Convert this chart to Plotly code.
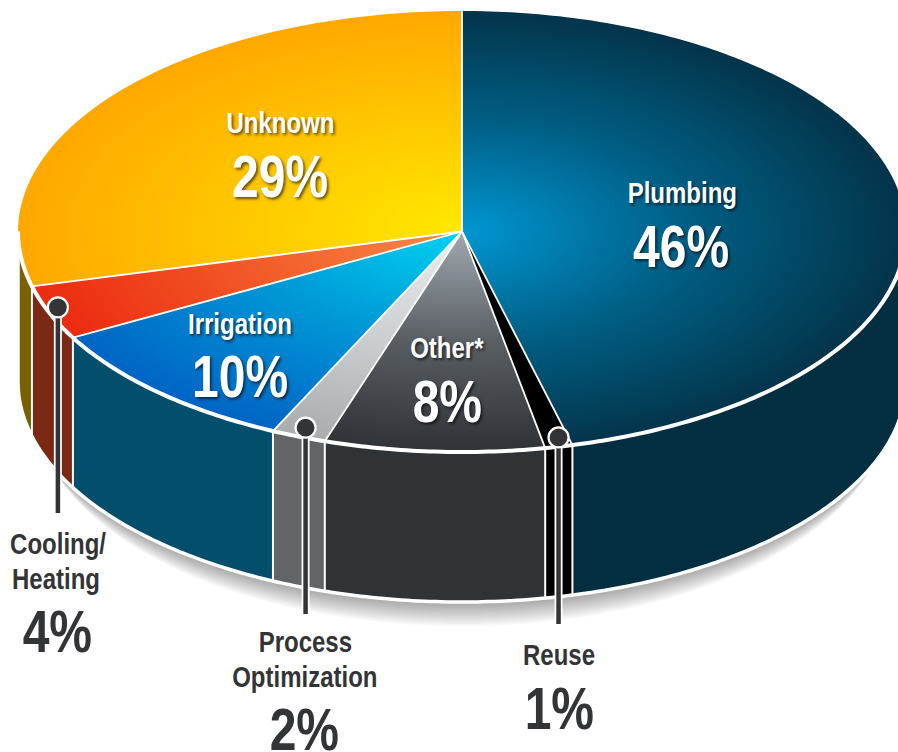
import numpy as np
import plotly.graph_objects as go

# Share of each use, clockwise from twelve o'clock
categories = ["Plumbing", "Reuse", "Other*", "Process Optimization", "Irrigation", "Cooling/Heating", "Unknown"]
shares = [46, 1, 8, 2, 10, 4, 29]

# Radial colour stops for the top faces (centre, middle, rim) and flat side-wall colours
top_colors = [
    ["#0096D2", "#005F85", "#03344A"],
    ["#000000", "#000000", "#000000"],
    ["#A0A9AF", "#5A5F64", "#2F3236"],
    ["#ECEEEF", "#CDD0D2", "#A8ACAF"],
    ["#00D2F0", "#0096D6", "#0064C4"],
    ["#F88A48", "#F25A28", "#EC2A10"],
    ["#FFE800", "#FFC800", "#FFA800"],
]
wall_colors = ["#012F40", "#000000", "#303336", "#636467", "#034E6B", "#7A2A14", "#7A6000"]

# Disc geometry in page pixels
CX, CY, RX, RY, DEPTH = 462.0, 231.5, 444.0, 220.5, 150.0
WHITE = "#FFFFFF"
DARK = "#333436"


def pct_to_angle(p):
    return np.radians(np.asarray(p, dtype=float) * 3.6)


def rim(angle, drop=0.0, frac=1.0):
    return CX + frac * RX * np.sin(angle), CY + drop - frac * RY * np.cos(angle)


fig = go.Figure()


def add_fill(x, y, **kw):
    fig.add_trace(go.Scatter(x=x, y=y, mode="lines", fill="toself", hoverinfo="skip",
                             showlegend=False, line=dict(width=0, simplify=False), **kw))


def add_line(x, y, color=WHITE, width=2.0):
    fig.add_trace(go.Scatter(x=x, y=y, mode="lines", hoverinfo="skip", showlegend=False,
                             line=dict(color=color, width=width, simplify=False)))


# Soft drop shadow: stacked translucent copies of the disc's lower outline,
# each a little narrower so the shadow thins out towards the sides
front = np.linspace(np.pi / 2, 3 * np.pi / 2, 240)
for d in range(2, 26, 2):
    shrink = 1 - d * 0.0016
    sx = CX + shrink * RX * np.sin(front)
    sy = CY + DEPTH + d - RY * np.cos(front)
    add_fill(list(sx), list(sy), fillcolor="rgba(0,0,0,0.03)")

cum = np.concatenate([[0], np.cumsum(shares)])

# Side walls, front half of the disc only
for i, color in enumerate(wall_colors):
    a0 = max(cum[i], 25) * 3.6
    a1 = min(cum[i + 1], 75) * 3.6
    if a1 <= a0:
        continue
    t = np.radians(np.linspace(a0, a1, 100))
    tx, ty = rim(t)
    bx, by = rim(t[::-1], DEPTH)
    add_fill(list(tx) + list(bx), list(ty) + list(by), fillcolor=color)

# Wall separators
for p in cum[1:]:
    if 25 < p < 75:
        a = pct_to_angle(p)
        x0, y0 = rim(a)
        x1, y1 = rim(a, DEPTH)
        add_line([float(x0), float(x1)], [float(y0), float(y1)], width=2)

# Top faces: the zero-area spikes stretch each wedge's bounds to the full ellipse,
# which keeps the radial gradient centred on the disc's hub.
spike_x = [CX, CX + RX, CX, CX - RX, CX, CX, CX, CX, CX]
spike_y = [CY, CY, CY, CY, CY, CY - RY, CY, CY + RY, CY]
for i, stops in enumerate(top_colors):
    t = pct_to_angle(np.linspace(cum[i], cum[i + 1], max(int(shares[i] * 4), 12)))
    ax, ay = rim(t)
    add_fill(spike_x + list(ax) + [CX], spike_y + list(ay) + [CY],
             fillgradient=dict(type="radial",
                               colorscale=[[0, stops[0]], [0.5, stops[1]], [1, stops[2]]]))

# Wedge separators
for p in cum[:-1]:
    ex, ey = rim(pct_to_angle(p))
    add_line([CX, float(ex)], [CY, float(ey)], width=1.8)

# Rim of the top face, and the outer edge of the wall
fx, fy = rim(front)
add_line(list(fx), list(fy), width=4)
bx, by = rim(front, DEPTH)
add_line([float(fx[0])] + list(bx) + [float(fx[-1])], [float(fy[0])] + list(by) + [float(fy[-1])], width=3.5)

# Leader lines for the small wedges: anchor (percent round, radial fraction) and lower end
leaders = [(69.25, 0.973, 513), (56.0, 0.957, 614), (46.36, 0.959, 624)]
for p, frac, end in leaders:
    lx, ly = rim(pct_to_angle(p), 0.0, frac)
    lx, ly = float(lx), float(ly)
    add_line([lx, lx], [ly, end - 1], color=WHITE, width=8)
    add_line([lx, lx], [ly, end], color=DARK, width=4.5)
    fig.add_trace(go.Scatter(x=[lx], y=[ly], mode="markers", hoverinfo="skip", showlegend=False,
                             marker=dict(size=20, color=DARK, line=dict(color=WHITE, width=2.2))))

FONT = "Liberation Sans"
SHADOW = "2px 2px 3px rgba(0,0,0,0.6)"


def label(text, x, y, size, color=WHITE, shadow=SHADOW):
    fig.add_annotation(x=x, y=y, text=text, showarrow=False, xanchor="center", yanchor="middle",
                       font=dict(family=FONT, size=size, color=color, shadow=shadow, weight=700))


inside = [("Unknown", 280, 122, 30), ("29%", 280, 176, 60),
          ("Plumbing", 682, 192, 30), ("46%", 681, 246, 60),
          ("Irrigation", 240, 323, 30), ("10%", 240, 376, 60),
          ("Other*", 447, 347, 30), ("8%", 447, 401, 60)]
outside = [("Cooling/", 58, 543, 30), ("Heating", 56, 578, 30), ("4%", 57, 631, 60),
           ("Process", 305, 641, 30), ("Optimization", 305, 676, 30), ("2%", 304, 729, 60),
           ("Reuse", 559, 654, 30), ("1%", 559, 708, 60)]
for t_, x_, y_, s_ in inside:
    label(t_, x_, y_, s_)
for t_, x_, y_, s_ in outside:
    label(t_, x_, y_, s_, color=DARK, shadow="none")

fig.update_layout(width=898, height=752, autosize=False, margin=dict(l=0, r=0, t=0, b=0),
                  paper_bgcolor=WHITE, plot_bgcolor=WHITE, showlegend=False,
                  xaxis=dict(range=[0, 898], visible=False, fixedrange=True),
                  yaxis=dict(range=[752, 0], visible=False, fixedrange=True))

# The labels use a narrow cut of the sans face: squeeze each text about its own centre.
NARROW_JS = """
document.querySelectorAll('text.annotation-text').forEach(function (el) {
  var b = el.getBBox(), c = b.x + b.width / 2;
  el.setAttribute('transform', 'translate(' + c + ',0) scale(0.8,1) translate(' + (-c) + ',0)');
});
"""
fig.write_html("out.html", config={"displayModeBar": False}, post_script=NARROW_JS)
